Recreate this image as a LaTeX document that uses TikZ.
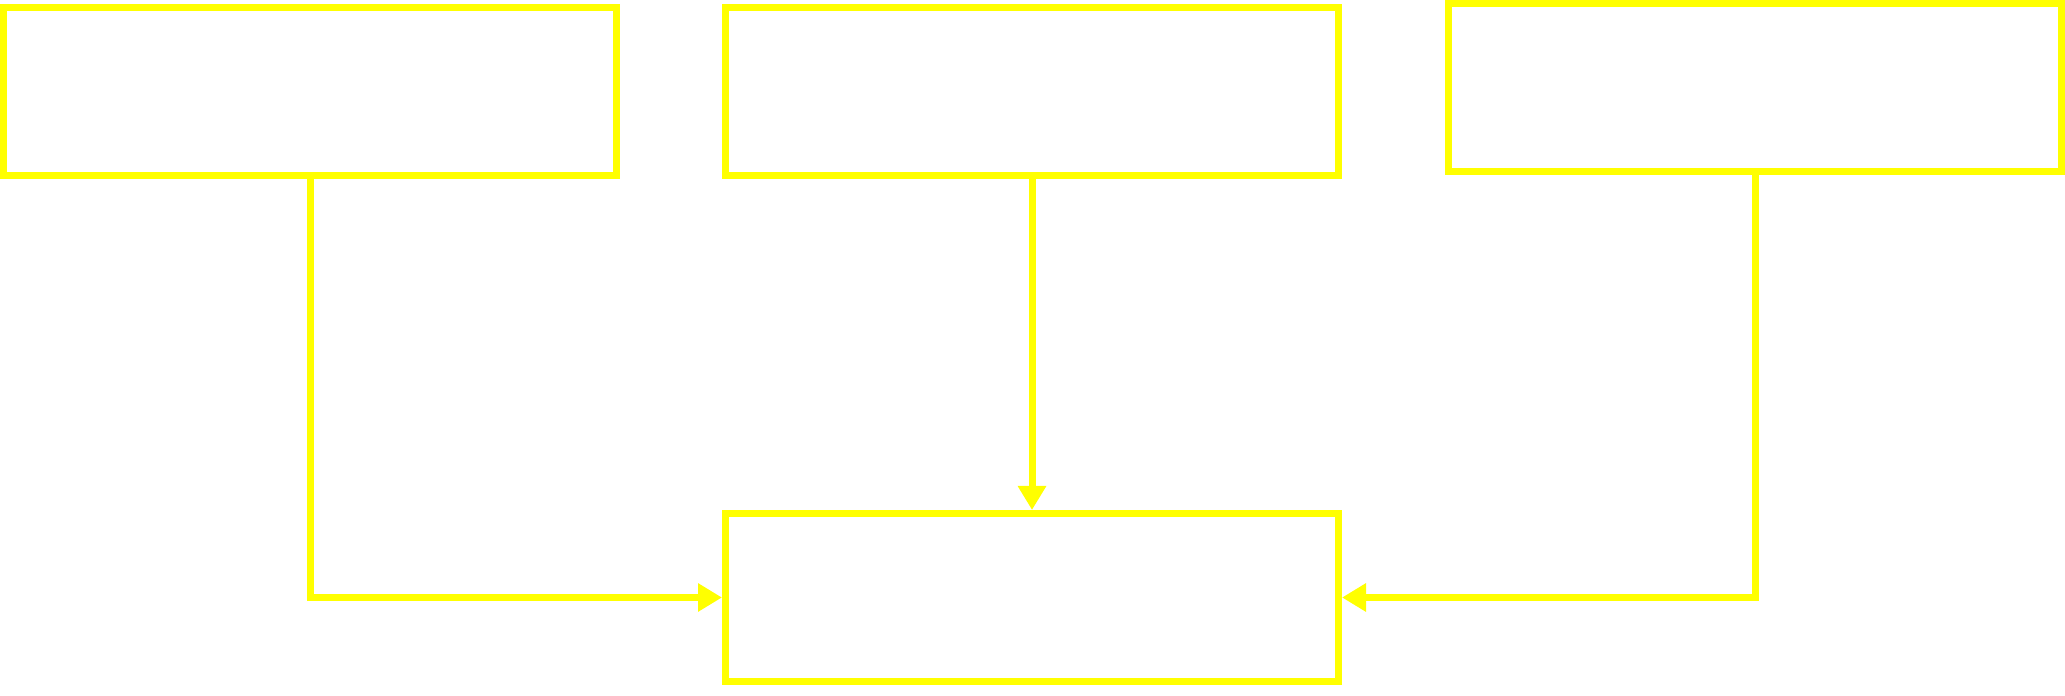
\documentclass[tikz,border=0pt]{standalone}
\usepackage{tikz}
\usetikzlibrary{arrows.meta,calc,positioning}
\definecolor{flowyellow}{RGB}{255,255,0}
\tikzset{
  >=stealth,
  line join=miter,
  stagebox/.style={draw=flowyellow, line width=0.7mm, minimum width=61.3mm, minimum height=16.8mm, inner sep=0pt},
  link/.style={draw=flowyellow, line width=0.7mm, -{Triangle[length=2.4mm,width=2.7mm]}}
}
\begin{document}
\begin{tikzpicture}[x=0.1mm, y=-0.1mm]
  \useasboundingbox (0,0) rectangle (2065,696);

  \node[stagebox] (srcA) at (310,91.5) {};
  \node[stagebox] (srcB) at (1032,91.5) {};
  \node[stagebox] (srcC) at (1755,87.5) {};
  \node[stagebox] (sink) at (1032,597.5) {};

  \draw[link] (srcA.south) |- (sink.west);
  \draw[link] (srcB.south) -- (sink.north);
  \draw[link] (srcC.south) |- (sink.east);
\end{tikzpicture}
\end{document}
